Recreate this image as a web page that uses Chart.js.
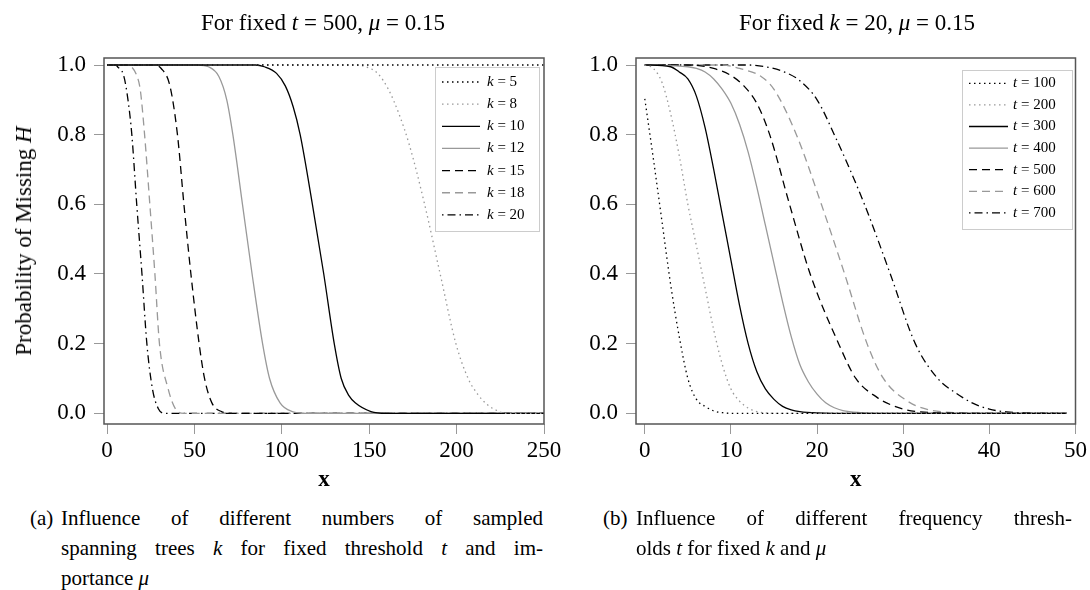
<!DOCTYPE html>
<html><head><meta charset="utf-8">
<script src="https://cdn.jsdelivr.net/npm/chart.js@4.4.0/dist/chart.umd.min.js"></script>
<style>
body{margin:0;background:#fff;width:1090px;height:590px;position:relative;overflow:hidden;font-family:"Liberation Serif",serif;color:#000}
canvas{position:absolute;top:0}
.title{position:absolute;top:10px;font-size:23px;line-height:26px;transform:translateX(-50%);white-space:nowrap}
.ylab{position:absolute;font-size:23px;line-height:26px;white-space:nowrap;transform:translate(-50%,-50%) rotate(-90deg)}
.cap{position:absolute;font-size:21px;line-height:30px;white-space:nowrap}
.just{text-align:justify;text-align-last:justify;white-space:normal}
</style></head><body>
<canvas id="c1" width="575" height="500" style="left:0"></canvas>
<canvas id="c2" width="558" height="500" style="left:532px"></canvas>
<div class="title" style="left:323px">For fixed <i>t</i> = 500, <i>μ</i> = 0.15</div>
<div class="title" style="left:857px">For fixed <i>k</i> = 20, <i>μ</i> = 0.15</div>
<div class="ylab" style="left:24px;top:241px">Probability of Missing <i>H</i></div>
<div class="cap" style="left:30px;top:503px">(a)</div>
<div class="cap" style="left:61px;top:503px;width:482px">
  <div class="just">Influence of different numbers of sampled</div>
  <div class="just">spanning trees <i>k</i> for fixed threshold <i>t</i> and im-</div>
  <div>portance <i>μ</i></div>
</div>
<div class="cap" style="left:603px;top:503px">(b)</div>
<div class="cap" style="left:636px;top:503px;width:436px">
  <div class="just">Influence of different frequency thresh-</div>
  <div>olds <i>t</i> for fixed <i>k</i> and <i>μ</i></div>
</div>
<script>
// ---- tick labels ----
const leftXTicks = [0, 50, 100, 150, 200, 250];
const rightXTicks = [0, 10, 20, 30, 40, 50];
const yTicks = [0, 0.2, 0.4, 0.6, 0.8, 1.0];

// ---- left chart: fixed t = 500, mu = 0.15 ----
const kLabels = ['k = 5', 'k = 8', 'k = 10', 'k = 12', 'k = 15', 'k = 18', 'k = 20'];
const k5X = [0, 250];
const k5Y = [1, 1];
const k8X = [0, 140, 148, 155, 161, 167, 173, 181.7, 190.6, 199.6, 206.6, 212, 217.5, 223, 228, 250];
const k8Y = [1, 1, 0.995, 0.975, 0.93, 0.86, 0.77, 0.6, 0.4, 0.2, 0.1, 0.055, 0.025, 0.008, 0, 0];
const k10X = [0, 85, 90, 97, 102, 106.5, 110.5, 117.5, 124, 130, 134, 138.5, 142, 151, 160, 250];
const k10Y = [1, 1, 0.995, 0.976, 0.94, 0.88, 0.8, 0.6, 0.4, 0.2, 0.1, 0.05, 0.03, 0.005, 0, 0];
const k12X = [0, 52, 58, 64, 68.5, 72, 77.5, 83, 89, 93, 99, 106, 114, 250];
const k12Y = [1, 1, 0.995, 0.967, 0.9, 0.8, 0.6, 0.4, 0.2, 0.1, 0.03, 0.005, 0, 0];
const k15X = [0, 27, 31, 36, 40.3, 44, 48, 52.7, 55.8, 60, 65.5, 72, 250];
const k15Y = [1, 1, 0.99, 0.94, 0.8, 0.6, 0.4, 0.2, 0.1, 0.03, 0.005, 0, 0];
const k18X = [0, 12, 14, 17, 19, 21.5, 24.5, 27.4, 30, 35, 39, 44, 250];
const k18Y = [1, 1, 0.995, 0.97, 0.93, 0.8, 0.6, 0.4, 0.2, 0.07, 0.014, 0, 0];
const k20X = [0, 5, 6, 9.5, 12, 14.2, 17, 20, 22.8, 26, 29.3, 33, 250];
const k20Y = [1, 1, 0.995, 0.97, 0.9, 0.8, 0.6, 0.4, 0.2, 0.07, 0.014, 0, 0];

// ---- right chart: fixed k = 20, mu = 0.15 ----
const tLabels = ['t = 100', 't = 200', 't = 300', 't = 400', 't = 500', 't = 600', 't = 700'];
const t100X = [0, 1, 2, 3, 4, 5, 6, 7, 8, 9, 10, 49];
const t100Y = [0.903, 0.73, 0.55, 0.37, 0.22, 0.1, 0.04, 0.02, 0.007, 0.002, 0, 0];
const t200X = [0, 1, 2, 3, 4, 5, 6, 7, 8, 9, 10, 11, 12, 13, 15, 49];
const t200Y = [1, 0.99, 0.95, 0.86, 0.74, 0.6, 0.48, 0.36, 0.24, 0.14, 0.07, 0.035, 0.015, 0.005, 0, 0];
const t300X = [0, 3, 4, 5, 6, 7, 8, 9, 10, 11, 12, 13, 14, 15, 16, 17, 18, 20, 22, 49];
const t300Y = [1, 0.995, 0.98, 0.96, 0.91, 0.82, 0.7, 0.57, 0.44, 0.31, 0.2, 0.12, 0.07, 0.04, 0.02, 0.01, 0.005, 0.001, 0, 0];
const t400X = [0, 5, 6, 7, 8, 9, 10, 11, 12, 13, 14, 15, 16, 17, 18, 19, 20, 21, 22, 23, 25, 27, 49];
const t400Y = [1, 0.995, 0.99, 0.98, 0.96, 0.93, 0.89, 0.83, 0.75, 0.65, 0.54, 0.43, 0.32, 0.22, 0.14, 0.09, 0.055, 0.03, 0.016, 0.008, 0.002, 0, 0];
const t500X = [0, 5, 8, 10, 11.5, 13, 14.5, 16.8, 19.2, 22.5, 24.5, 27, 28.5, 30, 32, 35, 38, 49];
const t500Y = [1, 1, 0.99, 0.97, 0.94, 0.89, 0.8, 0.6, 0.4, 0.2, 0.1, 0.045, 0.025, 0.012, 0.004, 0.001, 0, 0];
const t600X = [0, 9, 11, 13.5, 15, 17.6, 20.5, 23.2, 25.8, 27.7, 30.5, 33, 36, 39, 49];
const t600Y = [1, 1, 0.99, 0.967, 0.93, 0.8, 0.6, 0.4, 0.2, 0.1, 0.035, 0.01, 0.002, 0, 0];
const t700X = [0, 12, 14, 16, 18, 20, 22, 25.5, 28.5, 31.4, 34, 36, 38, 40, 42, 45, 47, 49];
const t700Y = [1, 1, 0.995, 0.982, 0.955, 0.9, 0.8, 0.6, 0.4, 0.2, 0.1, 0.06, 0.03, 0.012, 0.004, 0.001, 0, 0];

// ---- styles (kept separate from data) ----
const styles = [
  { color: '#000', dash: [1.5, 3.5], width: 1.3 },
  { color: '#999', dash: [1.5, 3.5], width: 1.3 },
  { color: '#000', dash: [], width: 1.3 },
  { color: '#999', dash: [], width: 1.3 },
  { color: '#000', dash: [8, 5], width: 1.3 },
  { color: '#999', dash: [8, 5], width: 1.3 },
  { color: '#000', dash: [1.5, 4, 8, 4], width: 1.3 }
];

const FONT = '"Liberation Serif", serif';
Chart.defaults.font.family = FONT;
Chart.defaults.color = '#000';

function pts(xs, ys) { return xs.map((x, i) => ({ x: x, y: ys[i] })); }

function makeDatasets(labels, series) {
  return series.map((s, i) => ({
    label: labels[i],
    data: pts(s[0], s[1]),
    borderColor: styles[i].color,
    borderDash: styles[i].dash,
    borderWidth: styles[i].width,
    pointRadius: 0,
    fill: false,
    cubicInterpolationMode: 'monotone'
  }));
}

const framePlugin = {
  id: 'frame',
  afterDatasetsDraw(chart) {
    const { left, top, right, bottom } = chart.chartArea;
    const ctx = chart.ctx;
    ctx.save();
    ctx.strokeStyle = '#555';
    ctx.lineWidth = 1.5;
    ctx.setLineDash([]);
    ctx.strokeRect(left, top, right - left, bottom - top);
    ctx.restore();
  }
};

const boxLegend = {
  id: 'boxLegend',
  afterDraw(chart, args, o) {
    const ctx = chart.ctx;
    ctx.save();
    ctx.fillStyle = '#fff';
    ctx.fillRect(o.x, o.y, o.w, o.h);
    ctx.strokeStyle = '#ccc';
    ctx.lineWidth = 1;
    ctx.strokeRect(o.x + 0.5, o.y + 0.5, o.w, o.h);
    chart.data.datasets.forEach((ds, i) => {
      const yy = o.firstY + i * o.step;
      ctx.beginPath();
      ctx.setLineDash(ds.borderDash || []);
      ctx.strokeStyle = ds.borderColor;
      ctx.lineWidth = ds.borderWidth;
      ctx.moveTo(o.lineX0, yy);
      ctx.lineTo(o.lineX1, yy);
      ctx.stroke();
      ctx.setLineDash([]);
      const v = ds.label.slice(0, 1), rest = ds.label.slice(1);
      ctx.fillStyle = '#000';
      ctx.textBaseline = 'middle';
      ctx.textAlign = 'left';
      ctx.font = 'italic 15px ' + FONT;
      ctx.fillText(v, o.textX, yy);
      const w1 = ctx.measureText(v).width;
      ctx.font = '15px ' + FONT;
      ctx.fillText(rest, o.textX + w1, yy);
    });
    ctx.restore();
  }
};

function makeChart(id, labels, series, xMin, xMax, xTicks, padRight, legendOpts) {
  return new Chart(document.getElementById(id), {
    type: 'line',
    data: { datasets: makeDatasets(labels, series) },
    plugins: [framePlugin, boxLegend],
    options: {
      responsive: false,
      animation: false,
      layout: { padding: { left: 0, right: padRight, top: 58, bottom: 0 } },
      plugins: { legend: { display: false }, tooltip: { enabled: false }, boxLegend: legendOpts },
      scales: {
        x: {
          type: 'linear', min: xMin, max: xMax,
          afterBuildTicks: s => { s.ticks = xTicks.map(v => ({ value: v })); },
          afterFit: s => { s.height = 76; },
          grid: { drawOnChartArea: false, drawTicks: true, tickLength: 10, tickColor: '#999', tickWidth: 1 },
          border: { display: false },
          ticks: { font: { size: 23 }, padding: 3, maxRotation: 0, autoSkip: false, color: '#000' },
          title: { display: true, text: 'x', font: { size: 23, weight: 'bold' }, padding: { top: 0, bottom: 6 }, color: '#000' }
        },
        y: {
          min: -0.0307, max: 1.0201,
          afterBuildTicks: s => { s.ticks = yTicks.map(v => ({ value: v })); },
          afterFit: s => { s.width = 104; },
          grid: { drawOnChartArea: false, drawTicks: true, tickLength: 10, tickColor: '#999', tickWidth: 1 },
          border: { display: false },
          ticks: { font: { size: 23 }, padding: 8, color: '#000', callback: v => v.toFixed(1) }
        }
      }
    }
  });
}

makeChart('c1', kLabels,
  [[k5X, k5Y], [k8X, k8Y], [k10X, k10Y], [k12X, k12Y], [k15X, k15Y], [k18X, k18Y], [k20X, k20Y]],
  -1.72, 250, leftXTicks, 31,
  { x: 435, y: 67, w: 104, h: 164, firstY: 82, step: 22.15, lineX0: 442, lineX1: 480, textX: 487 });

makeChart('c2', tLabels,
  [[t100X, t100Y], [t200X, t200Y], [t300X, t300Y], [t400X, t400Y], [t500X, t500Y], [t600X, t600Y], [t700X, t700Y]],
  -1.02, 50, rightXTicks, 14,
  { x: 430, y: 70, w: 110, h: 159, firstY: 83.3, step: 21.6, lineX0: 437, lineX1: 476, textX: 481 });
</script>
</body></html>
